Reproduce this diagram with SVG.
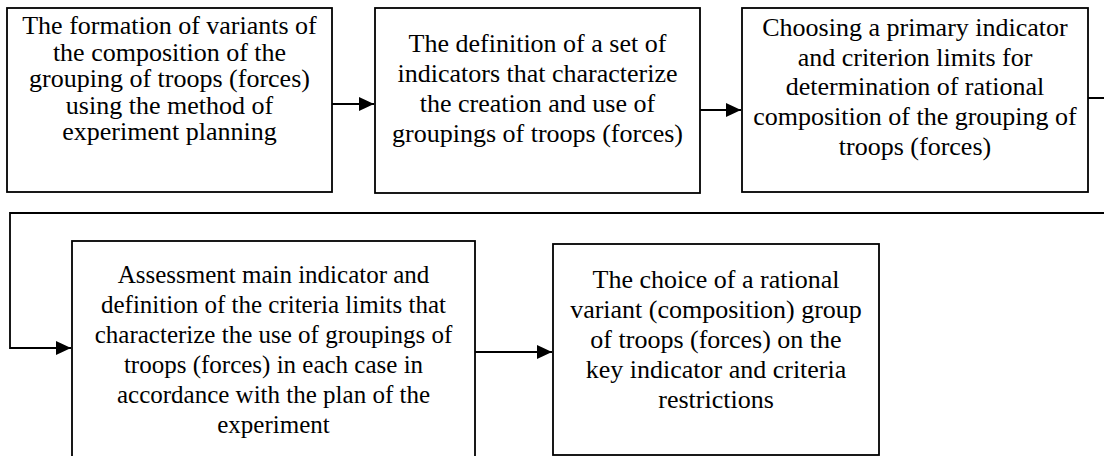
<svg xmlns="http://www.w3.org/2000/svg" width="1104" height="456" viewBox="0 0 1104 456">
  <defs>
    <marker id="arrow" markerWidth="15" markerHeight="14" refX="15" refY="7" orient="auto" markerUnits="userSpaceOnUse" viewBox="0 0 15 14">
      <path d="M0,0 L15,7 L0,14 Z" fill="#000"/>
    </marker>
  </defs>
  <rect width="1104" height="456" fill="#fff"/>

  <!-- process steps: one box per step, centred serif lines -->
  <g id="step1" font-size="26" text-anchor="middle" fill="#000">
    <rect x="7" y="8" width="325" height="184" fill="#fff" stroke="#000" stroke-width="1.8"/>
    <text font-family="serif" x="169.5" y="34">The formation of variants of</text>
    <text font-family="serif" x="169.5" y="60.5">the composition of the</text>
    <text font-family="serif" x="169.5" y="87">grouping of troops (forces)</text>
    <text font-family="serif" x="169.5" y="113.5">using the method of</text>
    <text font-family="serif" x="169.5" y="140">experiment planning</text>
  </g>

  <g id="step2" font-size="26" text-anchor="middle" fill="#000">
    <rect x="375" y="8" width="325" height="185" fill="#fff" stroke="#000" stroke-width="1.8"/>
    <text font-family="Times New Roman" x="537.5" y="52">The definition of a set of</text>
    <text font-family="Times New Roman" x="537.5" y="82">indicators that characterize</text>
    <text font-family="Times New Roman" x="537.5" y="112">the creation and use of</text>
    <text font-family="Times New Roman" x="537.5" y="142">groupings of troops (forces)</text>
  </g>

  <g id="step3" font-size="26" text-anchor="middle" fill="#000">
    <rect x="742" y="8" width="346" height="184" fill="#fff" stroke="#000" stroke-width="1.8"/>
    <text style="font-family:'Liberation Serif'" x="915" y="36">Choosing a primary indicator</text>
    <text style="font-family:'Liberation Serif'" x="915" y="65.7">and criterion limits for</text>
    <text style="font-family:'Liberation Serif'" x="915" y="95.4">determination of rational</text>
    <text style="font-family:'Liberation Serif'" x="915" y="125.1">composition of the grouping of</text>
    <text style="font-family:'Liberation Serif'" x="915" y="154.8">troops (forces)</text>
  </g>

  <g id="step4" font-size="25" text-anchor="middle" fill="#000" font-family="Liberation Serif">
    <rect x="72" y="241" width="403" height="230" fill="#fff" stroke="#000" stroke-width="1.8"/>
    <text x="273.5" y="283">Assessment main indicator and</text>
    <text x="273.5" y="313">definition of the criteria limits that</text>
    <text x="273.5" y="343">characterize the use of groupings of</text>
    <text x="273.5" y="373">troops (forces) in each case in</text>
    <text x="273.5" y="403">accordance with the plan of the</text>
    <text x="273.5" y="433">experiment</text>
  </g>

  <g id="step5" text-anchor="middle" fill="#000">
    <rect x="553" y="244" width="326" height="211" fill="#fff" stroke="#000" stroke-width="1.8"/>
    <text font-family="Liberation Serif" font-size="26px" x="716" y="288">The choice of a rational</text>
    <text font-family="Liberation Serif" font-size="26px" x="716" y="318">variant (composition) group</text>
    <text font-family="Liberation Serif" font-size="26px" x="716" y="348">of troops (forces) on the</text>
    <text font-family="Liberation Serif" font-size="26px" x="716" y="378">key indicator and criteria</text>
    <text font-family="Liberation Serif" font-size="26px" x="716" y="408">restrictions</text>
  </g>

  <g id="connectors" fill="none" stroke="#000" stroke-width="1.8">
    <path d="M332,104 H374" marker-end="url(#arrow)"/>
    <path d="M700,110 H741" marker-end="url(#arrow)"/>
    <path d="M1088,98 H1110 V213 H10 V348 H71" marker-end="url(#arrow)"/>
    <path d="M475,352 H552" marker-end="url(#arrow)"/>
  </g>
</svg>
